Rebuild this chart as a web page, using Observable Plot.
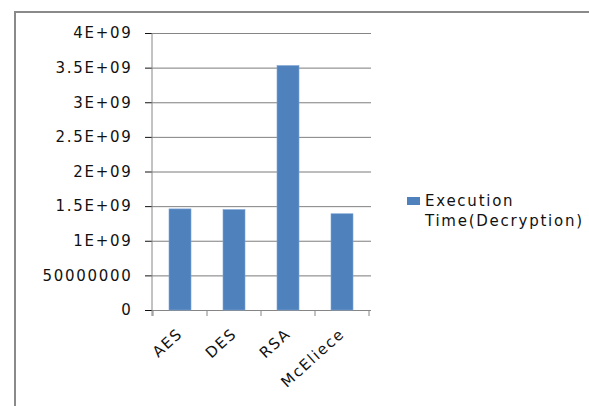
<!DOCTYPE html>
<html>
<head>
<meta charset="utf-8">
<script src="https://cdn.jsdelivr.net/npm/d3@7"></script>
<script src="https://cdn.jsdelivr.net/npm/@observablehq/plot@0.6"></script>
<style>
  html, body { margin: 0; padding: 0; background: #fff; }
  #wrap { position: relative; width: 589px; height: 406px; overflow: hidden; font-family: "DejaVu Sans", Verdana, sans-serif; }
  #border { position: absolute; left: 14px; top: 11px; right: -4px; bottom: -4px; border-top: 2px solid #8a8a8a; border-left: 2px solid #8a8a8a; }
  #chart { position: absolute; left: 0; top: 0; }
  #legend { position: absolute; left: 407px; top: 191px; font-size: 15px; letter-spacing: 1.75px; color: #111; line-height: 20px; }
  #legend .sw { position: absolute; left: 0; top: 6px; width: 13px; height: 8px; background: #4F81BD; }
  #legend .tx { margin-left: 18px; }
</style>
</head>
<body>
<div id="wrap">
  <div id="border"></div>
  <div id="chart"></div>
  <div id="legend"><span class="sw"></span><div class="tx">Execution<br>Time(Decryption)</div></div>
</div>
<script>
const categories = ["AES", "DES", "RSA", "McEliece"];
const values = [1.46e9, 1.45e9, 3.53e9, 1.39e9];
const yTicks = [0, 5e8, 1e9, 1.5e9, 2e9, 2.5e9, 3e9, 3.5e9, 4e9];
const yTickLabels = ["0", "50000000", "1E+09", "1.5E+09", "2E+09", "2.5E+09", "3E+09", "3.5E+09", "4E+09"];
const seriesName = "Execution Time(Decryption)";

const data = categories.map((c, i) => ({name: c, value: values[i]}));
const axisColor = "#868686";

function axisDecor(index, scales, vals, dims) {
  const x = scales.x, y = scales.y;
  const step = typeof x.step === "function" ? x.step() : x.step;
  const bw = typeof x.bandwidth === "function" ? x.bandwidth() : x.bandwidth;
  const g = d3.create("svg:g").attr("stroke", axisColor).attr("stroke-width", 1);
  const y0 = y(0), yTop = y(yTicks[yTicks.length - 1]);
  g.append("line").attr("x1", dims.marginLeft).attr("x2", dims.marginLeft)
    .attr("y1", yTop).attr("y2", y0 + 6);
  const bounds = categories.map(c => x(c) + bw / 2 - step / 2);
  bounds.push(x(categories[categories.length - 1]) + bw / 2 + step / 2);
  for (const b of bounds) {
    g.append("line").attr("x1", b).attr("x2", b).attr("y1", y0).attr("y2", y0 + 6);
  }
  return g.node();
}

const chart = Plot.plot({
  width: 589,
  height: 406,
  marginLeft: 152,
  marginRight: 218,
  marginTop: 33,
  marginBottom: 96,
  style: {fontFamily: "DejaVu Sans, Verdana, sans-serif", fontSize: "15px", color: "#111", background: "transparent"},
  x: {domain: categories, paddingInner: 0.585, paddingOuter: 0.2925, label: null, tickSize: 0, tickRotate: -42, tickPadding: 21},
  y: {domain: [0, 4e9], ticks: yTicks, tickFormat: d => yTickLabels[yTicks.indexOf(d)], tickSize: 7, tickPadding: 13, label: null, grid: true},
  marks: [
    Plot.ruleY(yTicks, {stroke: axisColor, strokeOpacity: 1}),
    Plot.barY(data, {x: "name", y: "value", fill: "#4F81BD", stroke: "#7fa6d6", strokeWidth: 0.6, title: d => `${seriesName}: ${d.value}`}),
    axisDecor
  ]
});
chart.querySelectorAll("text").forEach(t => t.style.letterSpacing = "1.7px");
document.getElementById("chart").appendChild(chart);
</script>
</body>
</html>
